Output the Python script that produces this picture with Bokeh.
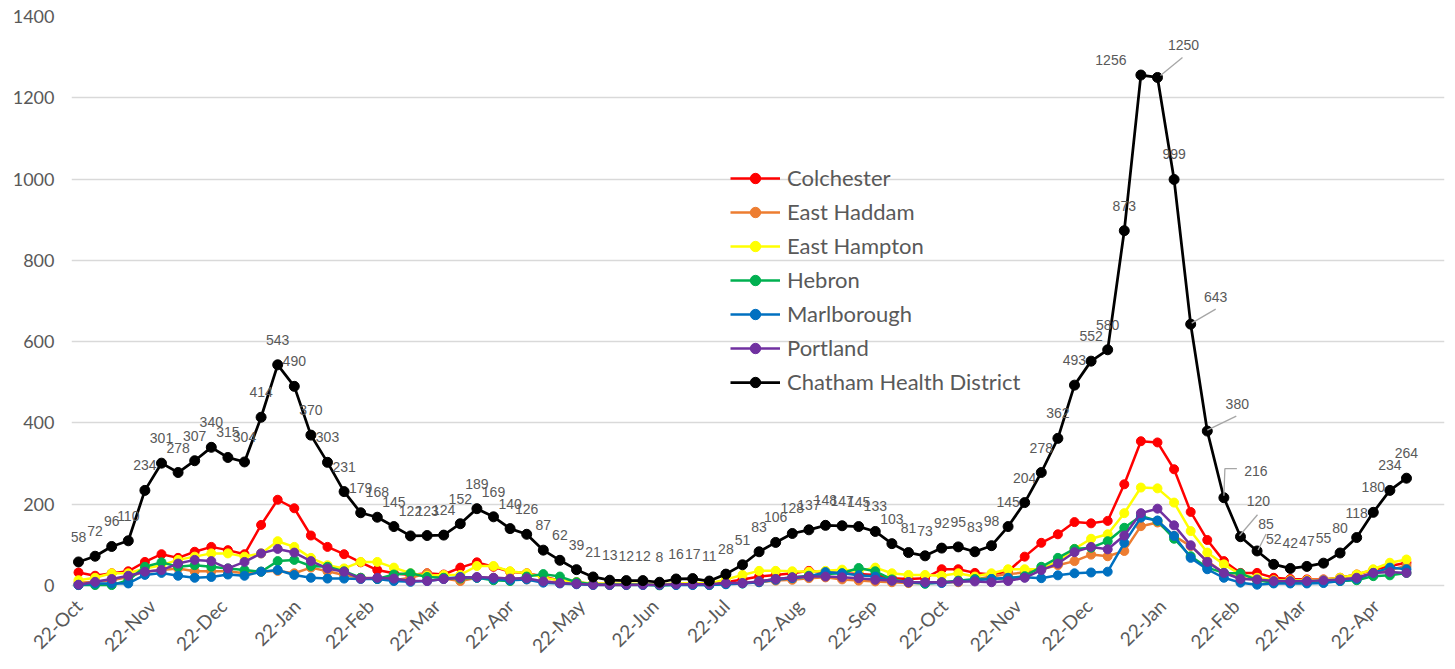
import math
import pandas as pd
from bokeh.plotting import figure
from bokeh.models import (Range1d, FixedTicker, DatetimeTickFormatter, Legend, LegendItem,
                          LabelSet, ColumnDataSource)
from bokeh.core.properties import value
from bokeh.embed import file_html
from bokeh.resources import INLINE

# ---------------- data ----------------
start_date = "2020-10-22"
n_weeks = 81
dates = pd.date_range(start_date, periods=n_weeks, freq="7D")

colchester = [32, 24, 30, 35, 58, 77, 68, 83, 95, 87, 77, 149, 211, 190, 123, 95, 77, 57, 38, 30, 26, 30, 27, 44, 57, 46, 34,
              30, 22, 12, 8, 4, 3, 3, 3, 2, 3, 4, 3, 8, 15, 22, 26, 30, 36, 33, 30, 28, 26, 18, 16, 18, 40, 40,
              31, 27, 35, 71, 105, 126, 156, 153, 159, 249, 355, 352, 286, 181, 112, 60, 31, 31, 19, 16, 15, 15, 19, 27, 38, 48, 56]
east_haddam = [7, 9, 13, 21, 34, 38, 42, 35, 35, 35, 30, 34, 36, 30, 44, 35, 26, 19, 17, 13, 19, 30, 17, 11, 19, 19, 17,
               15, 10, 8, 5, 2, 1, 1, 2, 2, 2, 3, 2, 4, 6, 8, 12, 14, 18, 20, 15, 12, 10, 8, 6, 6, 8, 8,
               15, 22, 28, 32, 40, 50, 60, 76, 72, 85, 146, 155, 122, 97, 60, 31, 19, 13, 10, 8, 8, 9, 12, 18, 30, 38, 48]
east_hampton = [13, 19, 30, 30, 42, 50, 63, 71, 79, 79, 71, 79, 109, 95, 68, 50, 42, 58, 58, 44, 30, 24, 26, 26, 48, 48, 35,
                30, 20, 12, 8, 5, 5, 4, 4, 3, 5, 6, 5, 15, 26, 36, 36, 35, 34, 36, 39, 36, 44, 30, 26, 26, 24, 30,
                22, 30, 40, 40, 40, 60, 90, 115, 126, 178, 241, 239, 204, 134, 81, 52, 27, 19, 13, 13, 13, 14, 19, 27, 40, 56, 64]
hebron = [1, 1, 1, 13, 46, 57, 46, 50, 46, 42, 38, 34, 60, 63, 48, 46, 35, 19, 16, 27, 30, 21, 19, 17, 19, 13, 11,
          22, 28, 22, 8, 3, 2, 2, 2, 0, 2, 2, 1, 4, 5, 10, 16, 20, 24, 28, 30, 43, 35, 15, 8, 4, 8, 12,
          16, 16, 18, 23, 46, 68, 90, 93, 109, 142, 171, 159, 115, 72, 44, 31, 30, 13, 7, 7, 7, 8, 11, 13, 23, 25, 31]
marlborough = [1, 5, 5, 5, 26, 31, 24, 19, 21, 27, 24, 34, 38, 26, 19, 17, 17, 16, 16, 11, 9, 11, 16, 21, 19, 16, 13,
               15, 7, 5, 3, 1, 1, 1, 1, 1, 1, 1, 1, 3, 5, 8, 14, 18, 22, 33, 30, 25, 22, 12, 8, 6, 6, 10,
               13, 16, 19, 20, 18, 25, 30, 32, 34, 105, 167, 160, 122, 68, 40, 19, 7, 2, 5, 5, 5, 6, 11, 16, 31, 44, 40]
portland = [2, 9, 16, 24, 34, 38, 54, 63, 60, 42, 58, 79, 90, 81, 60, 42, 34, 17, 19, 17, 11, 11, 16, 19, 21, 19, 17,
            18, 10, 6, 4, 2, 2, 2, 2, 2, 3, 3, 3, 6, 6, 10, 16, 20, 22, 22, 20, 18, 14, 12, 8, 8, 8, 10,
            10, 8, 11, 19, 38, 54, 82, 95, 89, 123, 178, 189, 148, 99, 58, 31, 16, 15, 11, 11, 11, 13, 15, 19, 31, 33, 31]
chatham = [58, 72, 96, 110, 234, 301, 278, 307, 340, 315, 304, 414, 543, 490, 370, 303, 231,
           179, 168, 145, 122, 123, 124, 152, 189, 169, 140, 126, 87, 62, 39, 21, 13, 12, 12, 8,
           16, 17, 11, 28, 51, 83, 106, 128, 137, 148, 147, 145, 133, 103, 81, 73, 92, 95, 83, 98,
           145, 204, 278, 362, 493, 552, 580, 873, 1256, 1250, 999, 643, 380, 216, 120, 85, 52, 42,
           47, 55, 80, 118, 180, 234, 264]

series_names = ["Colchester", "East Haddam", "East Hampton", "Hebron", "Marlborough", "Portland", "Chatham Health District"]
series_values = [colchester, east_haddam, east_hampton, hebron, marlborough, portland, chatham]
series_colors = ["#FF0000", "#ED7D31", "#FFFF00", "#00B050", "#0070C0", "#7030A0", "#000000"]

tick_dates = pd.date_range("2020-10-01", "2022-04-01", freq="MS") + pd.Timedelta(days=21)
y_ticks = [0, 200, 400, 600, 800, 1000, 1200, 1400]

# ---------------- layout ----------------
BL, BR, BT, BB = 71, 3, 16, 78
FRAME_W, FRAME_H = 1373, 574
W = BL + FRAME_W + BR
H = BT + FRAME_H + BB
Y_END = 1400
PX_PER_UNIT = 569 / 1400.0
Y_START = Y_END - FRAME_H / PX_PER_UNIT

DAY_MS = 86400000.0
t0 = dates[0].value / 1e6
PX_PER_DAY = 2.3714
x_start = t0 - 7.0 / PX_PER_DAY * DAY_MS
x_end = x_start + FRAME_W / PX_PER_DAY * DAY_MS
MS_PER_PX = DAY_MS / PX_PER_DAY
UNIT_PER_PX = 1.0 / PX_PER_UNIT

p = figure(width=W, height=H, output_backend="svg", toolbar_location=None,
           x_axis_type="datetime",
           x_range=Range1d(x_start, x_end), y_range=Range1d(Y_START, Y_END),
           min_border_left=BL, min_border_right=BR, min_border_top=BT, min_border_bottom=BB)
p.outline_line_color = None
p.background_fill_color = "white"
p.border_fill_color = "white"

GRAY = "#595959"
for ax in (p.xaxis[0], p.yaxis[0]):
    ax.axis_line_color = None
    ax.major_tick_line_color = None
    ax.minor_tick_line_color = None
    ax.major_tick_out = 0
    ax.major_tick_in = 0
    ax.minor_tick_out = 0
    ax.major_label_text_color = GRAY
    ax.major_label_text_font = "Lato"

p.yaxis[0].major_label_text_font_size = "18px"
p.xaxis[0].major_label_text_font_size = "19px"
p.yaxis[0].ticker = FixedTicker(ticks=y_ticks)
p.yaxis[0].major_label_standoff = 17
p.xaxis[0].ticker = FixedTicker(ticks=[d.value / 1e6 for d in tick_dates])
p.xaxis[0].formatter = DatetimeTickFormatter(days="%d-%b", months="%d-%b", years="%d-%b")
p.xaxis[0].major_label_orientation = math.pi / 4
p.xaxis[0].major_label_standoff = 12
p.xgrid.visible = False
p.ygrid.ticker = FixedTicker(ticks=y_ticks)
p.ygrid.grid_line_color = "#d9d9d9"
p.ygrid.grid_line_width = 1.5

items = []
for name, vals, col in zip(series_names, series_values, series_colors):
    lw = 2.75 if name.startswith("Chatham") else 2.5
    sz = 10 if name.startswith("Chatham") else 9
    lr = p.line(dates, vals, line_color=col, line_width=lw)
    sr = p.scatter(dates, vals, size=sz, fill_color=col, line_color=col)
    items.append(LegendItem(label=name, renderers=[lr, sr]))

# ---------------- data labels (Chatham) ----------------
lab_off = {i: (0, -25) for i in range(n_weeks)}
lab_off.update({64: (-30, -15), 65: (26, -32), 67: (25, -27), 68: (30, -27),
                69: (32, -27), 70: (18, -36), 71: (9, -27)})
lx, ly, lt = [], [], []
for i, (d, v) in enumerate(zip(dates, chatham)):
    dx, dy = lab_off[i]
    lx.append(d.value / 1e6 + dx * MS_PER_PX)
    ly.append(v - dy * UNIT_PER_PX)
    lt.append(str(v))
lab_src = ColumnDataSource(dict(x=lx, y=ly, text=lt))
labels = LabelSet(x="x", y="y", text="text", source=lab_src,
                  text_font=value("Liberation Sans"), text_font_size=value("14px"),
                  text_color=GRAY, text_align="center", text_baseline="middle")
p.add_layout(labels)

# leader lines: (index, [(dx, dy), ...]) in pixels relative to point
leaders = [(65, [(3, -2), (25, -20)]), (67, [(1, -1), (25, -15)]), (68, [(0, -1), (29, -15)]),
           (69, [(0, -2), (1, -29), (13, -29)]), (70, [(-1, -1), (17, -22)]), (71, [(1, -1), (9, -17)])]
xs, ys = [], []
for i, pts in leaders:
    bx = dates[i].value / 1e6
    by = chatham[i]
    xs.append([bx + dx * MS_PER_PX for dx, dy in pts])
    ys.append([by - dy * UNIT_PER_PX for dx, dy in pts])
p.multi_line(xs, ys, line_color="#a6a6a6", line_width=1.3)

legend = Legend(items=items, location=(659, 195), orientation="vertical",
                label_text_font="Lato", label_text_font_size="22px", label_text_color=GRAY,
                glyph_width=50, glyph_height=26, label_height=26, spacing=7, label_standoff=7,
                padding=0, margin=0, border_line_color=None, background_fill_alpha=0)
p.add_layout(legend)

open("out.html", "w").write(file_html(p, INLINE))
